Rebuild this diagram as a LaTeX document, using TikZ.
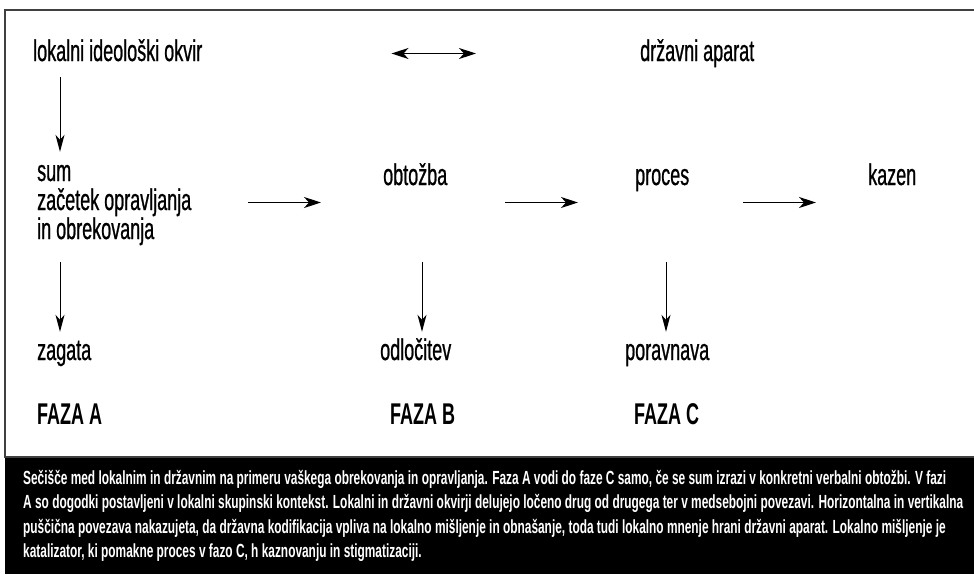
\documentclass[tikz,border=0pt]{standalone}
\usepackage{fontspec}
\setmainfont[FakeStretch=0.6]{Liberation Sans}
\newfontfamily\lblfont[FakeStretch=0.6, FakeBold=0.7]{Liberation Sans}
\newfontfamily\capfont[FakeStretch=0.626]{Liberation Sans}
\usetikzlibrary{arrows.meta}

\tikzset{
  lbl/.style={anchor=base west, inner sep=0pt, text height=20pt, text depth=5pt,
    font=\fontsize{30}{35}\lblfont},
  faza/.style={lbl, font=\fontsize{30}{35}\selectfont\bfseries},
  harrow/.style={-{Stealth[length=17pt, width=11pt, inset=5pt]}, line width=1.8pt},
  varrow/.style={-{Stealth[length=17pt, width=9pt, inset=5pt]}, line width=1pt}
}

\begin{document}
\begin{tikzpicture}[x=1pt, y=-1pt]
  \useasboundingbox (0,0) rectangle (974,574);
  % frame and caption band
  \draw[black!75, line width=1.4pt] (974,10) -- (5,10) -- (5,457) -- (974,457);
  \fill[black] (5,458) rectangle (974,574);

  % top row
  \node[lbl] (lokalni) at (33,61) {lokalni ideološki okvir};
  \node[lbl] (drzavni) at (640,61) {državni aparat};
  \draw[{Stealth[length=17pt, width=11pt, inset=5pt]}-{Stealth[length=17pt, width=11pt, inset=5pt]},
    line width=1.4pt, shorten <=189pt, shorten >=164pt] (lokalni.east) -- (drzavni.west);

  % middle row
  \node[lbl] (sum) at (37,181) {sum};
  \node[lbl] (zacetek) at (37,210) {začetek opravljanja};
  \node[lbl] (obrek) at (37,239) {in obrekovanja};
  \node[lbl] (obtozba) at (383,185) {obtožba};
  \node[lbl] (proces) at (635,185) {proces};
  \node[lbl] (kazen) at (868,185) {kazen};

  \draw[varrow, shorten <=11pt, shorten >=9pt]
    ([xshift=27pt]lokalni.south west) -- ([xshift=23pt]sum.north west);
  \draw[harrow, shorten <=57pt, shorten >=62pt]
    (zacetek.east) -- (obtozba.west |- zacetek.east);
  \draw[harrow, shorten <=58pt, shorten >=57pt]
    (obtozba.east |- zacetek.east) -- (proces.west |- zacetek.east);
  \draw[harrow, shorten <=54pt, shorten >=52pt]
    (proces.east |- zacetek.east) -- (kazen.west |- zacetek.east);

  % bottom row
  \node[lbl] (zagata) at (37,360) {zagata};
  \node[lbl] (odlocitev) at (380,360) {odločitev};
  \node[lbl] (poravnava) at (625,360) {poravnava};

  \draw[varrow, shorten <=18pt, shorten >=8pt]
    ([xshift=23pt]obrek.south west) -- ([xshift=23pt]zagata.north west);
  \draw[varrow, shorten <=72pt, shorten >=8pt]
    ([xshift=39pt]obtozba.south west) -- ([xshift=42pt]odlocitev.north west);
  \draw[varrow, shorten <=72pt, shorten >=8pt]
    ([xshift=31pt]proces.south west) -- ([xshift=41pt]poravnava.north west);

  % phases
  \node[faza] (fazaA) at (37,424) {FAZA A};
  \node[faza] (fazaB) at (390,424) {FAZA B};
  \node[faza] (fazaC) at (634,424) {FAZA C};

  % caption
  \node[anchor=north west, inner sep=0pt, text=white, align=left,
    font=\fontsize{19}{24.5}\capfont\bfseries] (caption) at (23,470) {%
    Sečišče med lokalnim in državnim na primeru vaškega obrekovanja in opravljanja. Faza A vodi do faze C samo, če se sum izrazi v konkretni verbalni obtožbi. V fazi\\
    A so dogodki postavljeni v lokalni skupinski kontekst. Lokalni in državni okvirji delujejo ločeno drug od drugega ter v medsebojni povezavi. Horizontalna in vertikalna\\
    puščična povezava nakazujeta, da državna kodifikacija vpliva na lokalno mišljenje in obnašanje, toda tudi lokalno mnenje hrani državni aparat. Lokalno mišljenje je\\
    katalizator, ki pomakne proces v fazo C, h kaznovanju in stigmatizaciji.};
\end{tikzpicture}
\end{document}
